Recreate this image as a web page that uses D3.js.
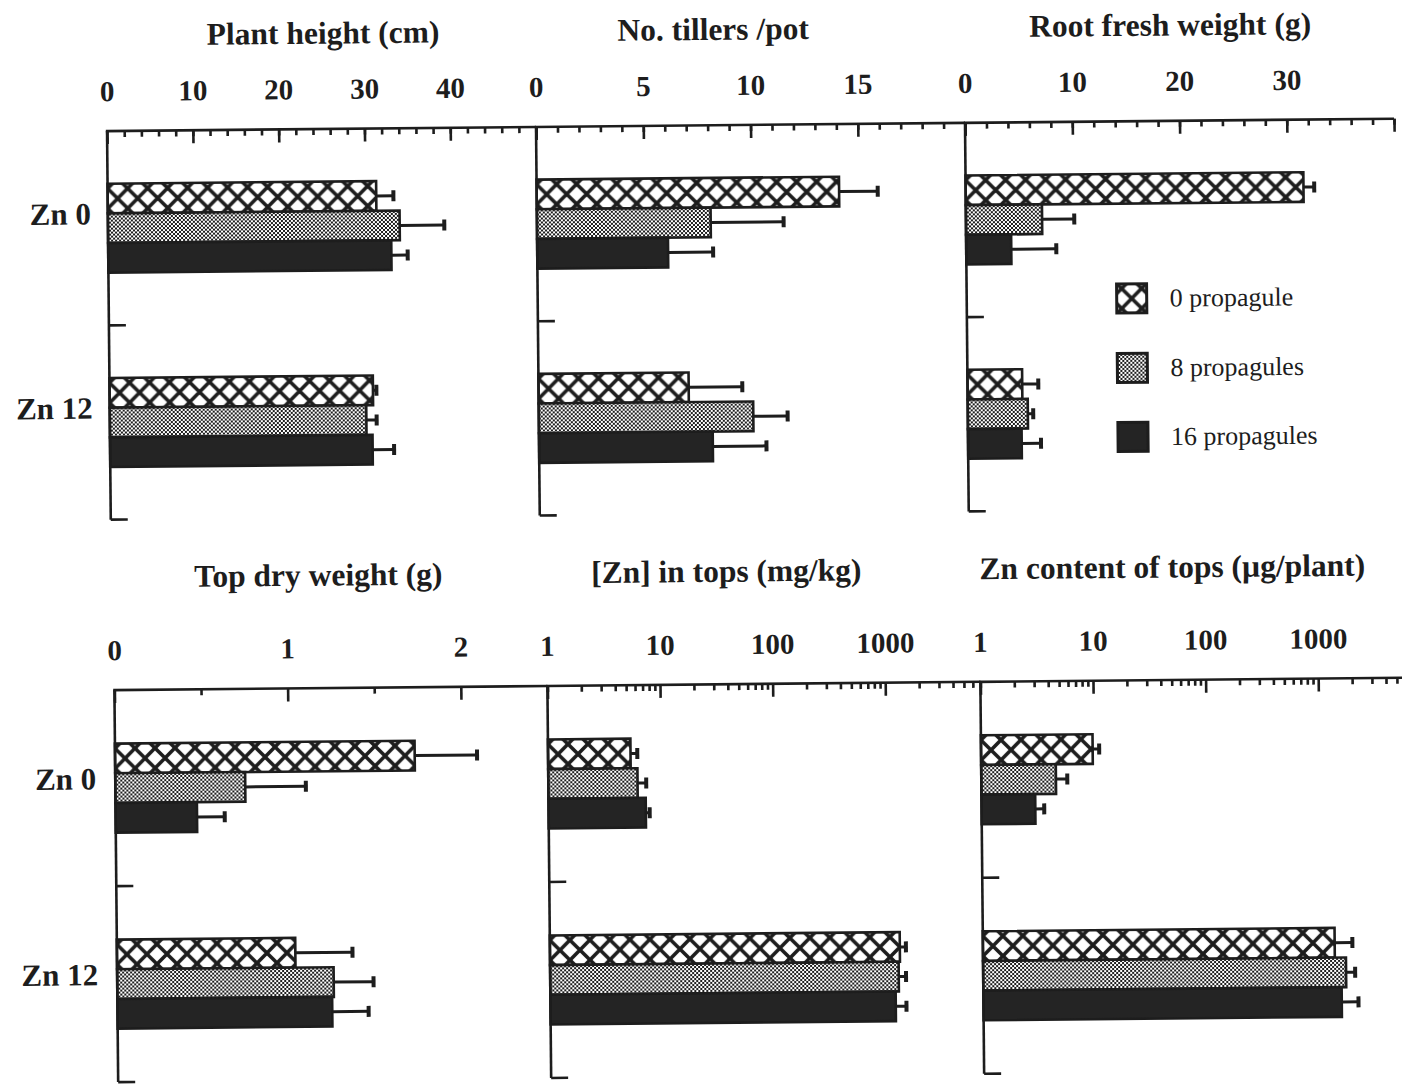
<!DOCTYPE html>
<html>
<head>
<meta charset="utf-8">
<script src="https://cdn.jsdelivr.net/npm/d3@7"></script>
<style>
  html, body { margin: 0; padding: 0; background: #fff; }
  svg { display: block; }
  text { font-family: "Liberation Serif", "Times New Roman", serif; fill: #1d1d1d; }
</style>
</head>
<body>
<svg id="chart" width="1402" height="1084"></svg>
<script>
// ---- data -------------------------------------------------------------
const zincLevels = ["Zn 0", "Zn 12"];
const treatments = ["0 propagule", "8 propagules", "16 propagules"];

const panelTitles = [
  "Plant height (cm)", "No. tillers /pot", "Root fresh weight (g)",
  "Top dry weight (g)", "[Zn] in tops (mg/kg)", "Zn content of tops (\u00b5g/plant)"
];

// means per [zinc level][treatment] and their standard errors
const plantHeight   = [[31.3, 34.0, 33.0], [30.7, 29.9, 30.6]];
const plantHeightSE = [[2.0, 5.2, 1.9], [0.4, 1.2, 2.5]];

const tillers   = [[14.1, 8.1, 6.1], [7.0, 10.0, 8.1]];
const tillersSE = [[1.8, 3.4, 2.1], [2.5, 1.6, 2.5]];

const rootFresh   = [[31.5, 7.1, 4.2], [5.1, 5.6, 5.0]];
const rootFreshSE = [[1.0, 3.0, 4.2], [1.5, 0.5, 1.8]];

const topDry   = [[1.73, 0.75, 0.47], [1.03, 1.25, 1.24]];
const topDrySE = [[0.36, 0.35, 0.16], [0.33, 0.23, 0.21]];

const znConc   = [[5.4, 6.2, 7.3], [1280, 1245, 1165]];
const znConcSE = [[0.8, 1.2, 0.6], [170, 200, 285]];

const znContent   = [[9.8, 4.6, 3.0], [1330, 1670, 1520]];
const znContentSE = [[1.4, 1.2, 0.6], [580, 340, 620]];

// tick values
const heightTicks  = [0, 10, 20, 30, 40];
const tillerTicks  = [0, 5, 10, 15];
const rootTicks    = [0, 10, 20, 30];
const dryTicks     = [0, 1, 2];
const concTicks    = [1, 10, 100, 1000];
const contentTicks = [1, 10, 100, 1000];

// ---- drawing ----------------------------------------------------------
const ink = "#1d1d1d";
const serif = '"Liberation Serif", "Times New Roman", serif';
const svg = d3.select("#chart");
const defs = svg.append("defs");
// whole figure sits slightly askew on the page
const root = svg.append("g").attr("transform", "rotate(-0.55,700,540)");

// fine stipple for the 8-propagule bars
const stip = defs.append("pattern").attr("id", "stipple")
  .attr("patternUnits", "userSpaceOnUse").attr("width", 4).attr("height", 4);
stip.append("rect").attr("width", 4).attr("height", 4).attr("fill", "#fff");
stip.append("rect").attr("width", 2).attr("height", 2).attr("fill", ink);
stip.append("rect").attr("x", 2).attr("y", 2).attr("width", 2).attr("height", 2).attr("fill", ink);

// diamond cross-hatch, phased so the lattice is centred on each bar
let hatchCount = 0;
function crossHatch(x, yMid) {
  const id = "hatch" + (hatchCount++);
  const p = defs.append("pattern").attr("id", id)
    .attr("patternUnits", "userSpaceOnUse")
    .attr("x", x).attr("y", yMid - 10).attr("width", 20).attr("height", 20);
  p.append("rect").attr("width", 20).attr("height", 20).attr("fill", "#fff");
  p.append("path")
    .attr("d", "M-5,-5L25,25M25,-5L-5,25M-5,15L5,25M15,-5L25,5M-5,5L5,-5M15,25L25,15")
    .attr("stroke", ink).attr("stroke-width", 3.6).attr("fill", "none");
  return `url(#${id})`;
}
function fillFor(ti, x, yMid) {
  if (ti === 0) return crossHatch(x, yMid);
  if (ti === 1) return "url(#stipple)";
  return "#242424";
}

const rows = [
  { top: 125.4, bottom: 514,   x0s: [111, 540, 969], width: 429, titleY: 40,  labelDy: 7 },
  { top: 684.5, bottom: 1076.5, x0s: [113, 546, 979], width: 433, titleY: 582, labelDy: 12 }
];

function linearMinors(max, step) {
  return d3.range(step, max + 1e-9, step);
}
function logMinors(max) {
  const out = [];
  for (let k = 0; k < 4; k++) for (let m = 2; m <= 9; m++) {
    const v = m * Math.pow(10, k);
    if (v <= max) out.push(v);
  }
  return out;
}

const panels = [
  { row: 0, col: 0, scale: d3.scaleLinear().domain([0, 50]), majors: d3.range(0, 51, 10), minors: linearMinors(50, 2),
    labels: heightTicks, values: plantHeight, errors: plantHeightSE, titleX: 217 },
  { row: 0, col: 1, scale: d3.scaleLinear().domain([0, 20]), majors: d3.range(0, 21, 5), minors: linearMinors(20, 1),
    labels: tillerTicks, values: tillers, errors: tillersSE, titleX: 178 },
  { row: 0, col: 2, scale: d3.scaleLinear().domain([0, 40]), majors: d3.range(0, 41, 10), minors: linearMinors(40, 2),
    labels: rootTicks, values: rootFresh, errors: rootFreshSE, titleX: 206, legend: true },
  { row: 1, col: 0, scale: d3.scaleLinear().domain([0, 2.5]), majors: [0, 1, 2], minors: [0.5, 1.5, 2.5],
    labels: dryTicks, values: topDry, errors: topDrySE, titleX: 205 },
  { row: 1, col: 1, scale: d3.scaleLog().domain([1, 7000]), majors: [1, 10, 100, 1000], minors: logMinors(7000),
    labels: concTicks, values: znConc, errors: znConcSE, titleX: 180 },
  { row: 1, col: 2, scale: d3.scaleLog().domain([1, 7000]), majors: [1, 10, 100, 1000], minors: logMinors(7000),
    labels: contentTicks, values: znContent, errors: znContentSE, titleX: 193 }
];

panels.forEach((p, i) => {
  const r = rows[p.row];
  const x0 = r.x0s[p.col];
  const x = p.scale.copy().range([x0, x0 + r.width]);
  const base = x.domain()[0];
  const band = d3.scaleBand().domain(zincLevels).range([r.top, r.bottom]);
  const inner = d3.scaleBand().domain(treatments).range([-44.5, 44.5]);
  const g = root.append("g");

  // bars
  zincLevels.forEach((z, zi) => {
    const mid = band(z) + band.bandwidth() / 2;
    treatments.forEach((t, ti) => {
      const y = mid + inner(t);
      const h = inner.bandwidth();
      const v = p.values[zi][ti];
      const e = p.errors[zi][ti];
      const cy = y + h / 2;
      g.append("rect")
        .attr("x", x(base)).attr("y", y)
        .attr("width", x(v) - x(base)).attr("height", h)
        .attr("fill", fillFor(ti, x(base), cy))
        .attr("stroke", ink).attr("stroke-width", 2.6);
      // standard error whisker with cap
      g.append("line")
        .attr("x1", x(v)).attr("x2", x(v + e)).attr("y1", cy).attr("y2", cy)
        .attr("stroke", ink).attr("stroke-width", 3);
      g.append("line")
        .attr("x1", x(v + e)).attr("x2", x(v + e)).attr("y1", cy - 5.5).attr("y2", cy + 5.5)
        .attr("stroke", ink).attr("stroke-width", 4);
    });
  });

  // top value axis: minor and major ticks pointing into the plot
  const minorAxis = d3.axisTop(x).tickValues(p.minors).tickSizeInner(-6).tickSizeOuter(0).tickFormat("");
  const majorAxis = d3.axisTop(x).tickValues(p.majors).tickSizeInner(-13).tickSizeOuter(0).tickPadding(30)
    .tickFormat(d => p.labels.includes(d) ? d3.format("~g")(d) : "");
  [minorAxis, majorAxis].forEach(ax => {
    const ag = g.append("g").attr("transform", `translate(0,${r.top})`).call(ax);
    ag.select(".domain").remove();
    ag.selectAll(".tick line").attr("stroke", ink).attr("stroke-width", 2.6);
    ag.selectAll(".tick text")
      .attr("font-family", serif).attr("font-weight", "bold")
      .attr("font-size", 29).attr("fill", ink);
  });
  g.append("line")
    .attr("x1", x0 - 1.2).attr("x2", x0 + r.width).attr("y1", r.top).attr("y2", r.top)
    .attr("stroke", ink).attr("stroke-width", 2.6);

  // category axis on the left with inward ticks at the group boundaries
  g.append("line")
    .attr("x1", x0).attr("x2", x0).attr("y1", r.top).attr("y2", r.bottom)
    .attr("stroke", ink).attr("stroke-width", 2.6);
  [band(zincLevels[1]), r.bottom].forEach(yb => {
    g.append("line")
      .attr("x1", x0).attr("x2", x0 + 17).attr("y1", yb).attr("y2", yb)
      .attr("stroke", ink).attr("stroke-width", 2.6);
  });

  // panel title
  g.append("text")
    .attr("x", x0 + p.titleX).attr("y", r.titleY)
    .attr("text-anchor", "middle").attr("font-weight", "bold").attr("font-size", 31.5)
    .text(panelTitles[i]);

  // zinc level labels at the left of each row
  if (p.col === 0) {
    zincLevels.forEach(z => {
      g.append("text")
        .attr("x", 94).attr("y", band(z) + band.bandwidth() / 2 + r.labelDy - 11)
        .attr("text-anchor", "end").attr("font-weight", "bold").attr("font-size", 31)
        .text(z);
    });
  }

  // legend
  if (p.legend) {
    const ys = [302.6, 372.1, 441.1];
    treatments.forEach((t, ti) => {
      const sx = x0 + 150, cy = ys[ti];
      g.append("rect")
        .attr("x", sx).attr("y", cy - 14.5).attr("width", 30).attr("height", 29)
        .attr("fill", ti === 0 ? crossHatch(sx + 5, cy) : fillFor(ti, sx, cy))
        .attr("stroke", ink).attr("stroke-width", 3);
      g.append("text")
        .attr("x", x0 + 203).attr("y", cy + 8.5)
        .attr("font-size", 26)
        .text(t);
    });
  }
});
</script>
</body>
</html>
